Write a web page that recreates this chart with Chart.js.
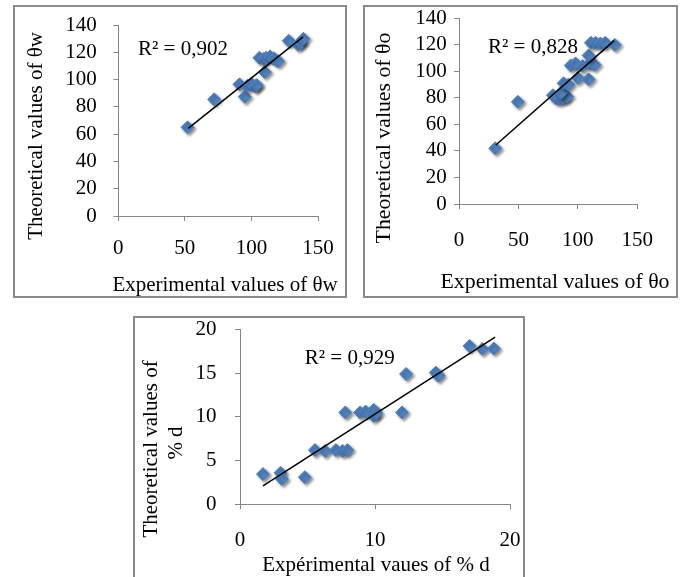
<!DOCTYPE html>
<html><head><meta charset="utf-8">
<script src="https://cdn.jsdelivr.net/npm/chart.js@4/dist/chart.umd.min.js"></script>
<style>
html,body{margin:0;padding:0;background:#fff;}
body{width:683px;height:577px;position:relative;overflow:hidden;}
.frame{position:absolute;border:2px solid #8a8a8a;box-sizing:border-box;background:#fff;}
canvas{position:absolute;}
</style></head><body>
<div class="frame" style="left:13px;top:5px;width:334px;height:293px"></div>
<div class="frame" style="left:363px;top:5px;width:315px;height:293px"></div>
<div class="frame" style="left:133px;top:316px;width:392px;height:275px"></div>
<canvas id="c1" style="left:15px;top:7px;width:330px;height:289px" width="330" height="289"></canvas>
<canvas id="c2" style="left:365px;top:7px;width:311px;height:289px" width="311" height="289"></canvas>
<canvas id="c3" style="left:135px;top:318px;width:388px;height:259px" width="388" height="259"></canvas>
<script>
// ---- data ----
const wExp  = [52, 72, 91, 95, 97, 100, 103, 104, 110, 106, 109, 111, 114, 117, 120, 128, 135, 137, 139];
const wTheo = [65, 85.5, 96.5, 87.5, 95.5, 97, 95, 96, 105.5, 116, 115, 116, 117, 115.5, 113.5, 128.5, 125.5, 127, 130];
const wTrendX = [52.5, 138.7];
const wTrendY = [64.2, 131.3];

const oExp  = [30.5, 49.5, 79, 82, 85, 88, 91, 86, 88, 92, 100, 94, 98, 104, 109, 110, 114, 109, 111, 115, 119, 123, 131];
const oTheo = [42, 77, 82, 79.5, 79, 80, 81, 84, 91, 90, 95, 104.5, 106, 104, 94, 106, 105, 112, 121.5, 121.5, 121, 121.5, 120];
const oTrendX = [31, 130.5];
const oTrendY = [44.5, 123.2];

const dExp  = [1.7, 3.0, 3.1, 4.8, 5.55, 6.3, 7.1, 7.6, 7.95, 7.8, 8.9, 9.3, 9.9, 9.9, 10.1, 12.0, 12.3, 14.5, 14.7, 17.0, 17.95, 18.8];
const dTheo = [3.45, 3.6, 2.9, 3.1, 6.2, 6.1, 6.2, 6.1, 6.2, 10.5, 10.5, 10.6, 10.8, 10.1, 10.4, 10.5, 14.9, 15.05, 14.7, 18.1, 17.75, 17.8];
const dTrendX = [1.7, 18.9];
const dTrendY = [2.1, 19.1];

const ticksX150 = [0, 50, 100, 150];
const ticksY140 = [0, 20, 40, 60, 80, 100, 120, 140];
const ticksX20 = [0, 10, 20];
const ticksY20 = [0, 5, 10, 15, 20];

const r2W = 'R² = 0,902';
const r2O = 'R² = 0,828';
const r2D = 'R² = 0,929';

// ---- rendering ----
const FAM = "'Liberation Serif', 'Times New Roman', serif";
const AXIS = '#868686';

const shadowPlugin = {
  id: 'markerShadow',
  beforeDatasetDraw(chart, args) {
    if (args.index === 1) {
      const c = chart.ctx; c.save();
      c.shadowColor = 'rgba(0,0,0,0.45)'; c.shadowBlur = 3; c.shadowOffsetX = 2; c.shadowOffsetY = 2;
    }
  },
  afterDatasetDraw(chart, args) { if (args.index === 1) chart.ctx.restore(); }
};

function build(id, c) {
  const pts = c.xs.map((x, i) => ({x, y: c.ys[i]}));
  const trend = c.tx.map((x, i) => ({x, y: c.ty[i]}));
  const tickFont = {family: FAM, size: 21, lineHeight: 1};
  const textPlugin = {
    id: 'texts_' + id,
    afterDraw(chart) {
      const ctx = chart.ctx, {x, y} = chart.scales;
      ctx.save();
      ctx.fillStyle = '#000'; ctx.textBaseline = 'middle';
      // R² label
      ctx.font = '21px ' + FAM; ctx.textAlign = 'left';
      ctx.fillText(c.r2, x.getPixelForValue(c.r2x), y.getPixelForValue(c.r2y));
      // axis titles
      ctx.font = c.titleSize + 'px ' + FAM; ctx.textAlign = 'center';
      ctx.fillText(c.xTitle, c.xTitlePos[0], c.xTitlePos[1]);
      c.yTitle.forEach((t, i) => {
        ctx.save();
        ctx.translate(c.yTitlePos[i][0], c.yTitlePos[i][1]);
        ctx.rotate(-Math.PI / 2);
        ctx.fillText(t, 0, 0);
        ctx.restore();
      });
      ctx.restore();
    }
  };
  new Chart(document.getElementById(id), {
    type: 'scatter',
    data: {datasets: [
      {type: 'line', data: trend, borderColor: '#000', borderWidth: 1.5, pointRadius: 0, fill: false, tension: 0},
      {data: pts, pointStyle: 'rectRot', pointRadius: 6.5, pointHoverRadius: 6.5,
       backgroundColor: '#4F81BD', borderColor: '#4F81BD', borderWidth: 1}
    ]},
    options: {
      responsive: false, animation: false, events: [],
      layout: {padding: c.pad, autoPadding: false},
      plugins: {legend: {display: false}, tooltip: {enabled: false}},
      scales: {
        x: {type: 'linear', min: c.xt[0], max: c.xt[c.xt.length - 1],
          afterBuildTicks: s => { s.ticks = c.xt.map(v => ({value: v})); },
          afterFit: s => { s.height = c.xH; s.paddingLeft = 0; s.paddingRight = 0; },
          grid: {drawOnChartArea: false, drawTicks: true, tickLength: 5, color: AXIS},
          border: {color: AXIS, width: 1},
          ticks: {font: tickFont, color: '#000', padding: c.xTickPad, maxRotation: 0}
        },
        y: {type: 'linear', min: c.yt[0], max: c.yt[c.yt.length - 1],
          afterBuildTicks: s => { s.ticks = c.yt.map(v => ({value: v})); },
          afterFit: s => { s.width = c.yW; s.paddingTop = 0; s.paddingBottom = 0; },
          grid: {drawOnChartArea: false, drawTicks: true, tickLength: 5, color: AXIS},
          border: {color: AXIS, width: 1},
          ticks: {font: tickFont, color: '#000', padding: c.yTickPad}
        }
      }
    },
    plugins: [shadowPlugin, textPlugin]
  });
}

build('c1', {xs: wExp, ys: wTheo, tx: wTrendX, ty: wTrendY, xt: ticksX150, yt: ticksY140,
  pad: {left: 0, right: 27, top: 18, bottom: 0}, yW: 103.3, xH: 80,
  xTickPad: 16.5, yTickPad: 16.5, titleSize: 21,
  xTitle: 'Experimental values of θw', xTitlePos: [210, 278],
  yTitle: ['Theoretical values of θw'], yTitlePos: [[21, 129]],
  r2: r2W, r2x: 14.8, r2y: 121.7});

build('c2', {xs: oExp, ys: oTheo, tx: oTrendX, ty: oTrendY, xt: ticksX150, yt: ticksY140,
  pad: {left: 0, right: 38.7, top: 11.3, bottom: 0}, yW: 94, xH: 92,
  xTickPad: 20.5, yTickPad: 7.3, titleSize: 21.8,
  xTitle: 'Experimental values of θo', xTitlePos: [190, 275],
  yTitle: ['Theoretical values of θo'], yTitlePos: [[19, 131]],
  r2: r2O, r2x: 24.4, r2y: 117.7});

build('c3', {xs: dExp, ys: dTheo, tx: dTrendX, ty: dTrendY, xt: ticksX20, yt: ticksY20,
  pad: {left: 0, right: 13, top: 11.3, bottom: 0}, yW: 105, xH: 72.7,
  xTickPad: 20.2, yTickPad: 18.5, titleSize: 21,
  xTitle: 'Expérimental vaues of % d', xTitlePos: [241, 247],
  yTitle: ['Theoretical values of', '% d'], yTitlePos: [[16, 131], [41, 125]],
  r2: r2D, r2x: 4.8, r2y: 16.7});
</script>
</body></html>
